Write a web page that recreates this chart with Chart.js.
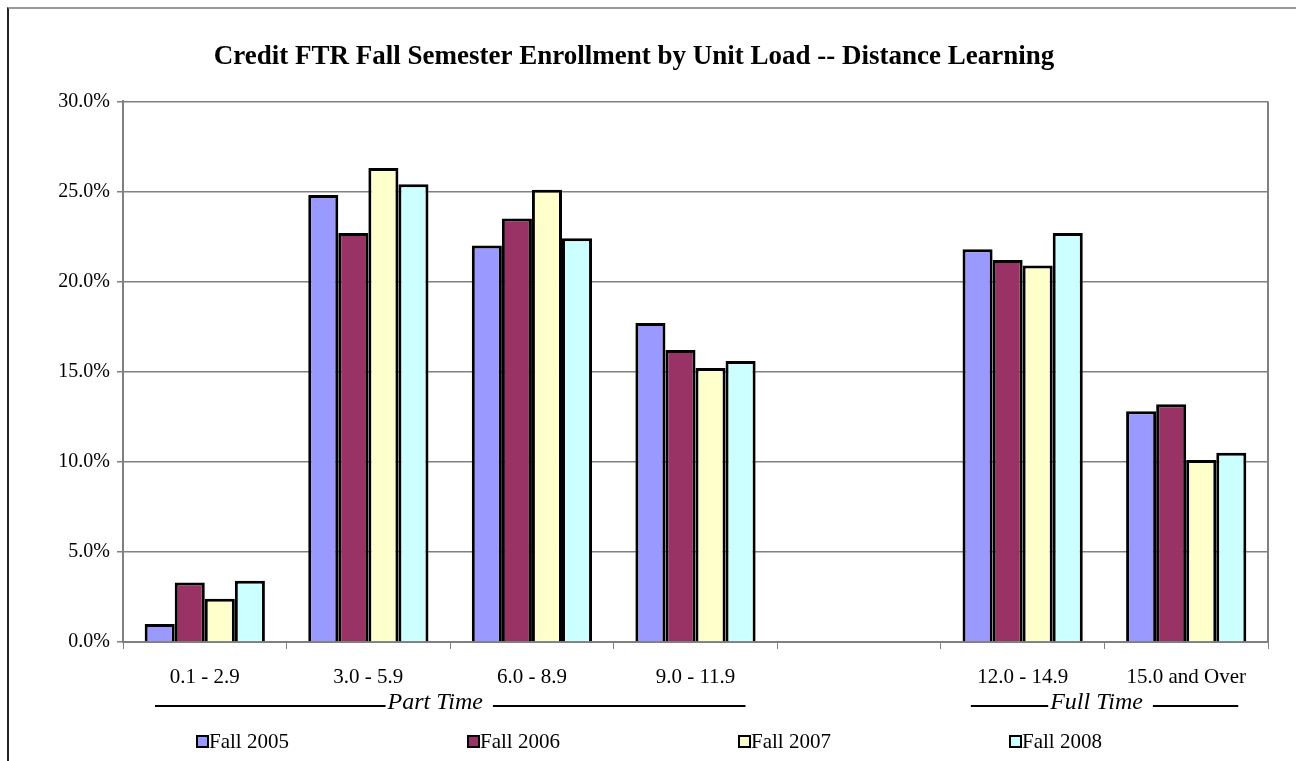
<!DOCTYPE html>
<html>
<head>
<meta charset="utf-8">
<script src="https://cdn.jsdelivr.net/npm/chart.js@4/dist/chart.umd.min.js"></script>
<style>
  html, body { margin: 0; padding: 0; background: #fff; }
  #wrap { position: absolute; left: 0; top: 0; width: 1296px; height: 761px; overflow: hidden; }
  #frame { position: absolute; left: 7px; top: 7px; width: 1300px; height: 800px;
           border-top: 2px solid #999; border-left: 2px solid #222; }
  canvas { position: absolute; left: 0; top: 0; }
</style>
</head>
<body>
<div id="wrap">
  <div id="frame"></div>
  <canvas id="barChart" width="1296" height="761"></canvas>
</div>
<script>
const categories = ['0.1 - 2.9', '3.0 - 5.9', '6.0 - 8.9', '9.0 - 11.9', '', '12.0 - 14.9', '15.0 and Over'];
const fall2005 = [1.0, 24.8, 22.0, 17.7, null, 21.8, 12.8];
const fall2006 = [3.3, 22.7, 23.5, 16.2, null, 21.2, 13.2];
const fall2007 = [2.4, 26.3, 25.1, 15.2, null, 20.9, 10.1];
const fall2008 = [3.4, 25.4, 22.4, 15.6, null, 22.7, 10.5];
const seriesNames = ['Fall 2005', 'Fall 2006', 'Fall 2007', 'Fall 2008'];
const seriesColors = ['#9999FF', '#993366', '#FFFFCC', '#CCFFFF'];
// group captions under the axis: [label, first category, last category]
const groups = [['Part Time', 0, 3], ['Full Time', 5, 6]];

const FONT = '"Liberation Serif", "Times New Roman", serif';

// group captions + legend drawn under the plot
const bottomPlugin = {
  id: 'bottomStuff',
  afterDraw(chart) {
    const ctx = chart.ctx;
    const x = chart.scales.x;
    const half = (x.getPixelForValue(1) - x.getPixelForValue(0)) / 2;
    ctx.save();
    ctx.strokeStyle = '#000';
    ctx.lineWidth = 2;
    ctx.fillStyle = '#000';
    ctx.font = 'italic 24px ' + FONT;
    ctx.textBaseline = 'middle';
    ctx.textAlign = 'center';
    const y = 704;
    groups.forEach(([label, a, b], gi) => {
      const left = x.getPixelForValue(a) - half + (gi === 0 ? 32 : 30);
      const right = x.getPixelForValue(b) + (gi === 0 ? 50 : 52);
      const mid = gi === 0 ? (left + right) / 2 - 15 : (left + right) / 2 - 8;
      const tw = ctx.measureText(label).width;
      ctx.fillText(label, mid, y - 1);
      ctx.beginPath();
      ctx.moveTo(left, y + 2); ctx.lineTo(mid - tw / 2 - 2, y + 2);
      ctx.moveTo(mid + tw / 2 + 10, y + 2); ctx.lineTo(right, y + 2);
      ctx.stroke();
    });
    // legend
    ctx.font = '21px ' + FONT;
    ctx.textAlign = 'left';
    const ly = 741;
    chart.data.datasets.forEach((ds, i) => {
      const lx = 197 + i * 271;
      ctx.fillStyle = ds.backgroundColor;
      ctx.fillRect(lx, ly - 5, 11, 11);
      ctx.lineWidth = 2;
      ctx.strokeStyle = '#000';
      ctx.strokeRect(lx, ly - 5, 11, 11);
      ctx.fillStyle = '#000';
      ctx.fillText(ds.label, lx + 12, ly + 1);
    });
    // right edge of plot area
    const ca = chart.chartArea;
    ctx.strokeStyle = '#808080';
    ctx.lineWidth = 2;
    ctx.beginPath();
    ctx.moveTo(ca.right, ca.top); ctx.lineTo(ca.right, ca.bottom);
    ctx.stroke();
    ctx.restore();
  }
};

const ctx = document.getElementById('barChart').getContext('2d');
const barChart = new Chart(ctx, {
  type: 'bar',
  data: {
    labels: categories,
    datasets: [fall2005, fall2006, fall2007, fall2008].map((d, i) => ({
      label: seriesNames[i],
      data: d,
      backgroundColor: seriesColors[i],
      borderColor: '#000',
      borderWidth: 3,
      categoryPercentage: 0.735,
      barPercentage: 1.0
    }))
  },
  options: {
    responsive: false,
    animation: false,
    layout: { padding: { left: 0, right: 28, top: 0, bottom: 0 } },
    plugins: {
      legend: { display: false },
      tooltip: { enabled: false },
      title: {
        display: true,
        text: 'Credit FTR Fall Semester Enrollment by Unit Load -- Distance Learning',
        color: '#000',
        font: { family: FONT, size: 27, weight: 'bold' },
        padding: { top: 41, bottom: 28 }
      }
    },
    scales: {
      x: {
        afterFit(scale) { scale.height = 119; },
        grid: { drawOnChartArea: false, drawTicks: true, tickLength: 7, color: '#808080', offset: true },
        border: { color: '#808080', width: 2 },
        ticks: { color: '#000', font: { family: FONT, size: 21 }, padding: 16, maxRotation: 0, autoSkip: false }
      },
      y: {
        min: 0, max: 30,
        afterFit(scale) { scale.width = 123; },
        grid: { color: '#808080', lineWidth: 1.5, tickLength: 6 },
        border: { color: '#808080', width: 2 },
        ticks: {
          stepSize: 5,
          color: '#000',
          font: { family: FONT, size: 20 },
          padding: 7,
          callback: v => v.toFixed(1) + '%'
        }
      }
    }
  },
  plugins: [bottomPlugin]
});
</script>
</body>
</html>
